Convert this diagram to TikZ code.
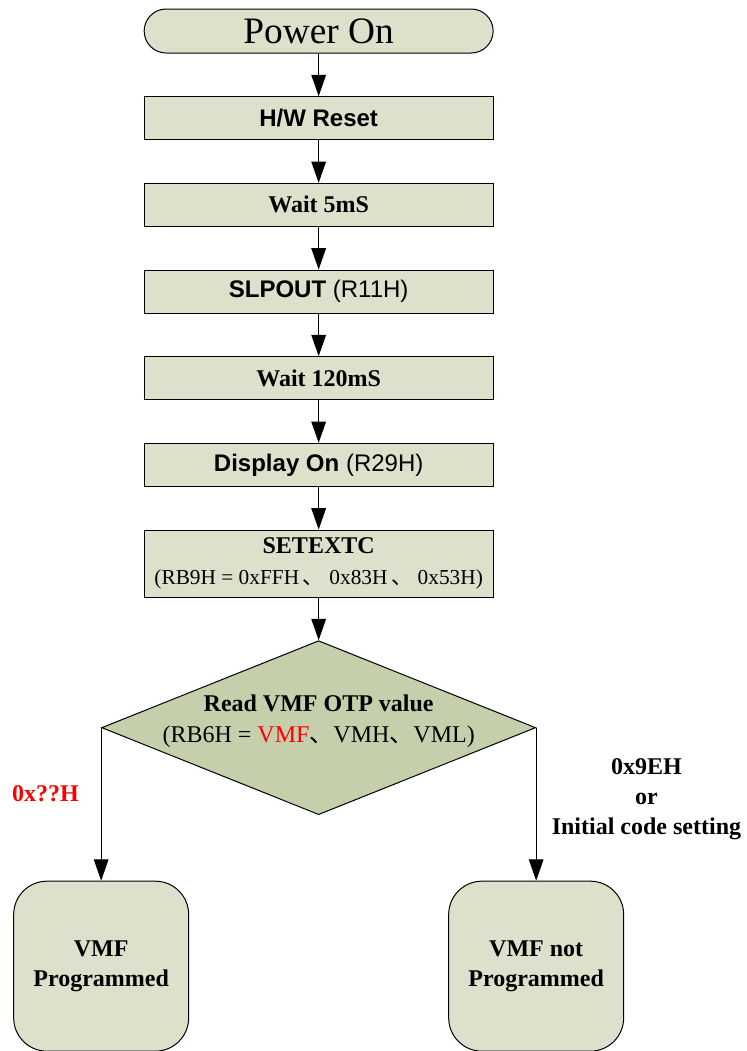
\documentclass[tikz,border=0pt]{standalone}
\usepackage{fontspec}
\setmainfont{Liberation Serif}
\setsansfont{Liberation Sans}
\newfontfamily\cjk{Noto Sans CJK SC}
\usepackage{xcolor}
\usepackage{tikz}
\usetikzlibrary{shapes, arrows.meta, positioning, calc}
\definecolor{boxgreen}{RGB}{221,225,204}
\definecolor{otpgreen}{RGB}{197,207,171}
\tikzset{
    startstop/.style={rectangle, rounded corners=16.5pt, minimum width=261.75pt, minimum height=33pt, text centered, draw=black, fill=boxgreen, line width=0.75pt},
    process/.style={rectangle, minimum width=261.75pt, minimum height=32.25pt, text centered, align=center, draw=black, fill=boxgreen, line width=0.75pt, inner sep=0pt},
    decision/.style={diamond, minimum width=325.5pt, minimum height=130.5pt, draw=black, fill=otpgreen, line width=0.75pt, inner sep=0pt},
    result/.style={rectangle, rounded corners=25pt, minimum width=131.25pt, minimum height=127.5pt, text centered, align=center, draw=black, fill=boxgreen, line width=0.75pt},
    arrow/.style={line width=0.75pt, -{Triangle[length=16pt, width=11pt]}},
    serb/.style={font=\fontsize{18}{22.5}\selectfont\bfseries},
    sanb/.style={font=\fontsize{18}{21.6}\selectfont\sffamily}
}

\begin{document}
\begin{tikzpicture}[node distance=32pt]
    \useasboundingbox (0,0) rectangle (560.25pt,-788.25pt);
        \node [startstop, font=\fontsize{28}{32}\selectfont] (power) at (239pt,-23.25pt) {Power On};
        \node [process, sanb, below=of power] (reset) {\textbf{H/W Reset}};
        \node [process, serb, below=of reset] (wait1) {Wait 5mS};
        \node [process, sanb, below=of wait1] (slpout) {\textbf{SLPOUT} (R11H)};
        \node [process, serb, below=of slpout] (wait2) {Wait 120mS};
        \node [process, sanb, below=of wait2] (dispon) {\textbf{Display On} (R29H)};
        \node [process, minimum height=50.25pt, font=\fontsize{18}{23.25}\selectfont, below=of dispon] (setextc) {\textbf{SETEXTC}\\\fontsize{16}{23.25}\selectfont(RB9H = 0xFFH\,{\cjk 、} 0x83H\,{\cjk 、} 0x53H)};
        \node [decision, below=of setextc] (otp) {};
        \node [align=center, font=\fontsize{18}{23.25}\selectfont, yshift=5pt] (otptext) at (otp) {\textbf{Read VMF OTP value}\\(RB6H = \textcolor{red}{VMF}{\cjk 、}VMH{\cjk 、}VML)};
        \node [result, serb, below=114.75pt of otp.west] (vmfyes) {VMF\\Programmed};
        \node [result, serb, below=114.75pt of otp.east] (vmfno) {VMF not\\Programmed};

        \draw [arrow] (power) -- (reset);
        \draw [arrow] (reset) -- (wait1);
        \draw [arrow] (wait1) -- (slpout);
        \draw [arrow] (slpout) -- (wait2);
        \draw [arrow] (wait2) -- (dispon);
        \draw [arrow] (dispon) -- (setextc);
        \draw [arrow] (setextc) -- (otp);
        \draw [arrow] (otp.west) -- node [pos=0.43, left=13pt, serb, text=red] {0x??H} (vmfyes);
        \draw [arrow] (otp.east) -- node [pos=0.47, right=8pt, serb, align=center] {0x9EH\\or\\Initial code setting} (vmfno);
    \end{tikzpicture}
\end{document}
